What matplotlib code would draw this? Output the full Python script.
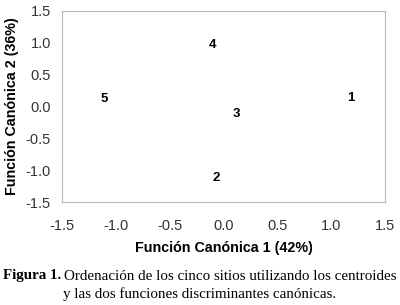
import matplotlib
matplotlib.use('Agg')
import matplotlib.pyplot as plt

# centroides de los cinco sitios
sitios = ['1', '2', '3', '4', '5']
fc1 = [1.18, -0.07, 0.12, -0.10, -1.11]
fc2 = [0.14, -1.13, -0.12, 0.97, 0.12]
ticks = [-1.5, -1.0, -0.5, 0.0, 0.5, 1.0, 1.5]

plt.rcParams['font.family'] = ['Liberation Sans', 'DejaVu Sans']

fig = plt.figure(figsize=(4.0, 3.05), dpi=100)
ax = fig.add_axes([62 / 400, 1 - 202 / 305, 323 / 400, 191 / 305])

for s, x, y in zip(sitios, fc1, fc2):
    ax.text(x, y, s, ha='center', va='center', fontsize=9.5, fontweight='bold')

ax.set_xlim(-1.5, 1.5)
ax.set_ylim(-1.5, 1.5)
ax.set_xticks(ticks)
ax.set_yticks(ticks)
ax.set_xticklabels(['%.1f' % t for t in ticks], fontsize=10.5, color='#333333')
ax.set_yticklabels(['%.1f' % t for t in ticks], fontsize=10.5, color='#333333')
ax.tick_params(length=0)
ax.tick_params(axis='x', pad=12)
ax.tick_params(axis='y', pad=8)
for sp in ax.spines.values():
    sp.set_color('#b8b8b8')
    sp.set_linewidth(0.8)

ax.set_xlabel('Función Canónica 1 (42%)', fontsize=10.3, fontweight='bold', labelpad=6)
ax.set_ylabel('Función Canónica 2 (36%)', fontsize=10.3, fontweight='bold', labelpad=5)

cap1 = fig.text(3 / 400, 1 - 276 / 305, 'Figura 1.', family='Liberation Serif',
                fontsize=10.8, fontweight='bold', va='center', ha='left')
fig.canvas.draw()
bb = cap1.get_window_extent()
fig.text(bb.x1 / 400 + 0.008, 1 - 276 / 305,
         'Ordenación de los cinco sitios utilizando los centroides',
         family='Liberation Serif', fontsize=10.8, va='center', ha='left')
fig.text(0.5, 1 - 294 / 305, 'y las dos funciones discriminantes canónicas.',
         family='Liberation Serif', fontsize=10.8, va='center', ha='center')

fig.savefig('out.png', dpi=100)
